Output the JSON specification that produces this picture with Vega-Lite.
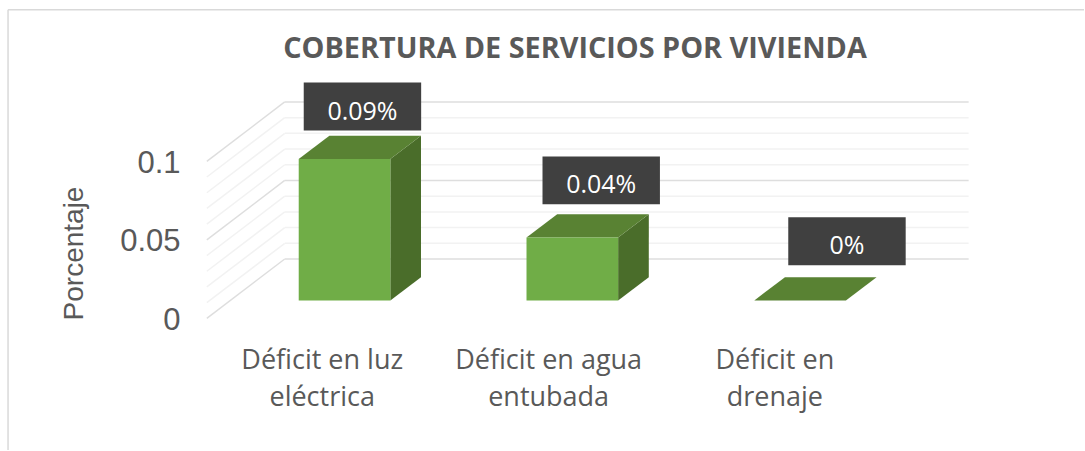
{
"$schema":"https://vega.github.io/schema/vega-lite/v6.json",
"width":1085,"height":451,"autosize":{"type":"fit","contains":"padding"},"padding":0,"background":"white",
"title":{"text":"COBERTURA DE SERVICIOS POR VIVIENDA","frame":"group","anchor":"middle","dx":33,"dy":91,"baseline":"alphabetic","font":"Open Sans","fontSize":28.8,"fontWeight":"bold","color":"#595959"},
"datasets":{
"barras":[
{"categoria":"Déficit en luz eléctrica","orden":0,"valor":0.09,"etiqueta":"0.09%"},
{"categoria":"Déficit en agua entubada","orden":1,"valor":0.04,"etiqueta":"0.04%"},
{"categoria":"Déficit en drenaje","orden":2,"valor":0,"etiqueta":"0%"}],
"rejilla":[
{"nivel":0,"tipo":"mayor"},{"nivel":0.01,"tipo":"menor"},{"nivel":0.02,"tipo":"menor"},{"nivel":0.03,"tipo":"menor"},{"nivel":0.04,"tipo":"menor"},{"nivel":0.05,"tipo":"mayor"},{"nivel":0.06,"tipo":"menor"},{"nivel":0.07,"tipo":"menor"},{"nivel":0.08,"tipo":"menor"},{"nivel":0.09,"tipo":"menor"},{"nivel":0.1,"tipo":"mayor"}]
},
"layer":[
{"data":{"name":"rejilla"},
 "transform":[{"calculate":"datum.nivel+0.0378","as":"fondo"}],
 "mark":{"type":"rule","strokeWidth":1.5},
 "encoding":{
  "x":{"datum":-0.1623,"type":"quantitative","scale":{"domain":[-1.4123,3.3465],"nice":false,"zero":false},
   "axis":{"orient":"bottom","offset":-103,"values":[0,0.994,1.987],"domain":false,"ticks":false,"grid":false,"title":null,"labelPadding":0,"labelFont":"Open Sans","labelFontSize":27,"labelColor":"#595959","labelLineHeight":37,"labelBaseline":"top","labelOverlap":false,"labelFlush":false,"labelLimit":400,
   "labelExpr":"datum.value<0.5?['Déficit en luz','eléctrica']:datum.value<1.5?['Déficit en agua','entubada']:['Déficit en','drenaje']"}},
  "x2":{"datum":2.84},
  "y":{"field":"fondo","type":"quantitative","scale":{"domain":[-0.0838,0.2027],"nice":false,"zero":false},
   "axis":{"orient":"left","offset":-180,"values":[0,0.05,0.1],"format":"~g","domain":false,"ticks":false,"grid":false,"labelPadding":0,"labelOffset":2,"labelFont":"Liberation Sans","labelFontSize":31,"labelColor":"#595959","title":"Porcentaje","titleFont":"Liberation Sans","titleFontSize":28,"titleFontWeight":"normal","titleColor":"#595959","titleX":-98,"titleY":253,"titleAngle":-90,"titleAlign":"center","titleBaseline":"alphabetic"}},
  "color":{"field":"tipo","type":"nominal","scale":{"domain":["mayor","menor"],"range":["#DEDEDE","#F2F2F2"]},"legend":null}
 }},
{"data":{"name":"rejilla"},
 "transform":[{"calculate":"datum.nivel+0.0378","as":"fondo"}],
 "mark":{"type":"rule","strokeWidth":1.5},
 "encoding":{
  "x":{"datum":-0.5044,"type":"quantitative"},
  "x2":{"datum":-0.1623},
  "y":{"field":"nivel","type":"quantitative"},
  "y2":{"field":"fondo"},
  "color":{"field":"tipo","type":"nominal","legend":null}
 }},
{"data":{"name":"barras"},
 "transform":[{"calculate":"[0,1]","as":"t"},{"flatten":["t"]},
  {"calculate":"datum.orden+0.3013+datum.t*0.1346","as":"xs"},
  {"calculate":"0.01144+datum.t*0.0148","as":"y0"},
  {"calculate":"datum.y0+datum.valor","as":"y1"}],
 "mark":{"type":"area","orient":"vertical","color":"#4A6D2A"},
 "encoding":{
  "x":{"field":"xs","type":"quantitative"},
  "y":{"field":"y0","type":"quantitative"},
  "y2":{"field":"y1"},
  "detail":{"field":"categoria","type":"nominal"}
 }},
{"data":{"name":"barras"},
 "transform":[{"calculate":"[0,1]","as":"t"},{"flatten":["t"]},
  {"calculate":"0.01144+datum.valor+datum.t*0.0148","as":"ys"},
  {"calculate":"datum.orden-0.1009+datum.t*0.1346","as":"xa"},
  {"calculate":"datum.xa+0.4022","as":"xb"}],
 "mark":{"type":"area","orient":"horizontal","color":"#598233"},
 "encoding":{
  "y":{"field":"ys","type":"quantitative"},
  "x":{"field":"xa","type":"quantitative"},
  "x2":{"field":"xb"},
  "detail":{"field":"categoria","type":"nominal"}
 }},
{"data":{"name":"barras"},
 "transform":[{"calculate":"datum.orden-0.1009","as":"xa"},{"calculate":"datum.orden+0.3013","as":"xb"},
  {"calculate":"0.01144","as":"y0"},{"calculate":"0.01144+datum.valor","as":"y1"}],
 "mark":{"type":"rect","color":"#70AD47"},
 "encoding":{
  "x":{"field":"xa","type":"quantitative"},"x2":{"field":"xb"},
  "y":{"field":"y0","type":"quantitative"},"y2":{"field":"y1"}
 }},
{"data":{"name":"barras"},
 "transform":[
  {"calculate":"[-0.0789,0.9693,2.0482][datum.orden]","as":"xa"},
  {"calculate":"datum.xa+0.5155","as":"xb"},
  {"calculate":"[0.1196,0.0726,0.0339][datum.orden]","as":"y0"},
  {"calculate":"datum.y0+0.0305","as":"y1"}],
 "mark":{"type":"rect","color":"#404040"},
 "encoding":{
  "x":{"field":"xa","type":"quantitative"},"x2":{"field":"xb"},
  "y":{"field":"y0","type":"quantitative"},"y2":{"field":"y1"}
 }},
{"data":{"name":"barras"},
 "transform":[
  {"calculate":"[0.1789,1.2271,2.3060][datum.orden]","as":"xc"},
  {"calculate":"[0.1266,0.0796,0.0409][datum.orden]","as":"yc"}],
 "mark":{"type":"text","font":"Open Sans","fontSize":25,"color":"white","align":"center","baseline":"alphabetic"},
 "encoding":{
  "x":{"field":"xc","type":"quantitative"},
  "y":{"field":"yc","type":"quantitative"},
  "text":{"field":"etiqueta"}
 }},
{"data":{"values":[{"marco":"superior"}]},
 "mark":{"type":"rule","color":"#D9D9D9","strokeWidth":1.5},
 "encoding":{
  "x":{"datum":-1.377,"type":"quantitative"},"x2":{"datum":3.3465},
  "y":{"datum":0.1965,"type":"quantitative"}
 }},
{"data":{"values":[{"marco":"izquierdo"}]},
 "mark":{"type":"rule","color":"#D9D9D9","strokeWidth":1.5},
 "encoding":{
  "x":{"datum":-1.377,"type":"quantitative"},
  "y":{"datum":0.1965,"type":"quantitative"},"y2":{"datum":-0.0838}
 }}
],
"config":{"view":{"stroke":null}}
}
